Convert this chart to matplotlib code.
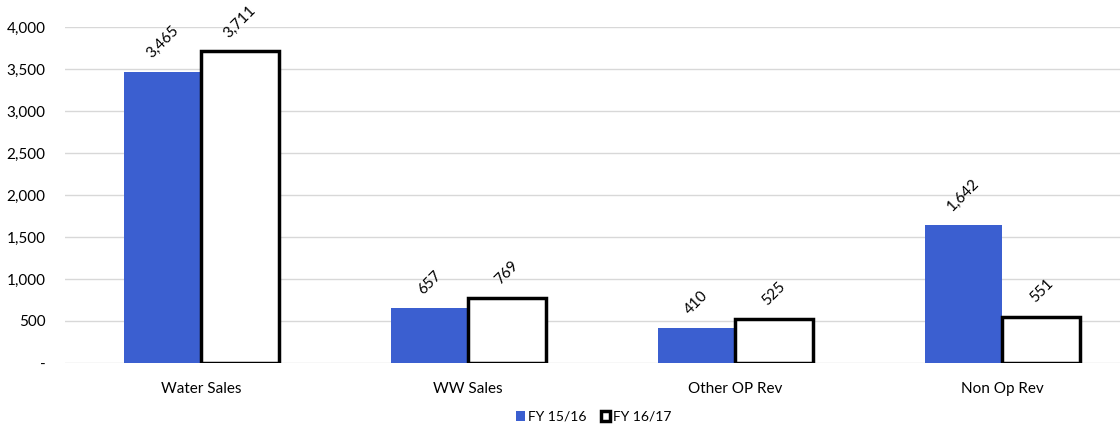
import matplotlib
matplotlib.use("Agg")
from matplotlib import pyplot as plt
from matplotlib.ticker import FuncFormatter
import numpy as np

categories = ["Water Sales", "WW Sales", "Other OP Rev", "Non Op Rev"]
fy_15_16 = [3465, 657, 410, 1642]
fy_16_17 = [3711, 769, 525, 551]
series_names = ["FY 15/16", "FY 16/17"]

blue = "#3b5fd0"
plt.rcParams["font.family"] = ["Lato", "DejaVu Sans"]

fig = plt.figure(figsize=(11.2, 4.3), dpi=100)
ax = fig.add_axes([0.058, 0.156, 0.942, 0.781])

x = np.arange(len(categories))
w = 0.29
b1 = ax.bar(x - w / 2, fy_15_16, width=w, color=blue, label=series_names[0], zorder=2)
b2 = ax.bar(x + w / 2, fy_16_17, width=w, color="white", edgecolor="black",
            linewidth=2.5, label=series_names[1], zorder=2)

# rotated value labels above each bar
for bars in (b1, b2):
    for bar in bars:
        v = bar.get_height()
        ax.annotate(f"{v:,.0f}", (bar.get_x() + bar.get_width() / 2, v),
                    xytext=(0, 8), textcoords="offset points",
                    ha="center", va="bottom", rotation=45, fontsize=11)

ax.set_ylim(0, 4000)
ax.set_xlim(-0.51, 3.44)
ax.set_yticks(np.arange(0, 4001, 500))
ax.yaxis.set_major_formatter(FuncFormatter(lambda v, p: "-" if v == 0 else f"{v:,.0f}"))
ax.grid(axis="y", color="#d8d8d8", linewidth=1, zorder=0)
ax.set_xticks(x)
ax.set_xticklabels(categories, fontsize=11)
ax.tick_params(axis="both", length=0, labelsize=11)
ax.tick_params(axis="y", pad=14)
ax.tick_params(axis="x", pad=14)
for s in ax.spines.values():
    s.set_visible(False)

fig.legend(loc="lower center", bbox_to_anchor=(0.53, -0.012), ncol=2, frameon=False,
           fontsize=10, handlelength=0.7, handletextpad=0.2, columnspacing=1.0)

fig.savefig("out.png", dpi=100)
